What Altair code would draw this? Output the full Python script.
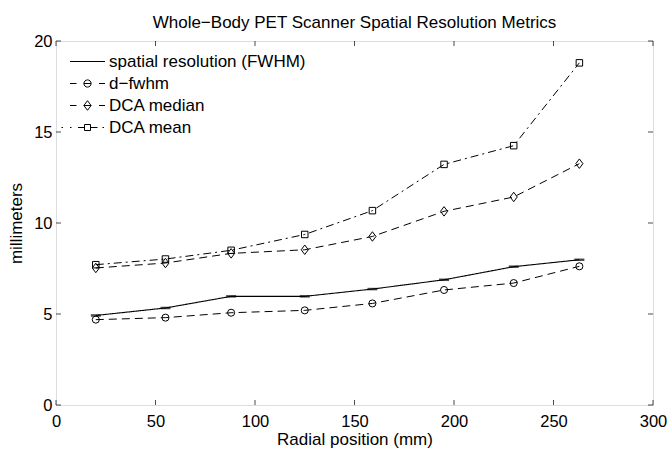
import altair as alt
import pandas as pd

radial = [20, 55, 88, 125, 159, 195, 230, 263]
fwhm = [4.92, 5.33, 5.97, 5.97, 6.37, 6.88, 7.60, 7.98]
d_fwhm = [4.69, 4.80, 5.07, 5.20, 5.58, 6.32, 6.70, 7.62]
dca_median = [7.53, 7.80, 8.33, 8.53, 9.26, 10.64, 11.43, 13.26]
dca_mean = [7.71, 8.02, 8.50, 9.37, 10.68, 13.22, 14.25, 18.80]

names = ["spatial resolution (FWHM)", "d\u2212fwhm", "DCA median", "DCA mean"]
x_ticks = [0, 50, 100, 150, 200, 250, 300]
y_ticks = [0, 5, 10, 15, 20]

FONT = "Liberation Sans"

rows = []
for name, vals in zip(names, [fwhm, d_fwhm, dca_median, dca_mean]):
    for xv, yv in zip(radial, vals):
        rows.append({"series": name, "x": xv, "y": yv})
df = pd.DataFrame(rows)

xs = alt.Scale(domain=[0, 300], nice=False, zero=False)
ys = alt.Scale(domain=[0, 20], nice=False, zero=False)

xaxis = alt.Axis(values=x_ticks, ticks=False, domain=False, grid=False,
                 labelFontSize=16.5, labelFont=FONT, labelColor="black", labelPadding=8,
                 titleFontSize=17, titleFont=FONT, titleFontWeight="normal", titleColor="black",
                 titleBaseline="alphabetic", titleY=39, titleX=298.5, labelFlush=False)
yaxis = alt.Axis(values=y_ticks, ticks=False, domain=False, grid=False,
                 labelFontSize=16.5, labelFont=FONT, labelColor="black", labelPadding=4,
                 titleFontSize=17, titleFont=FONT, titleFontWeight="normal", titleColor="black",
                 titleBaseline="alphabetic", titleAngle=270, titleX=-35, titleY=182,
                 titleAlign="center", labelFlush=False)

base = alt.Chart(df)


def xenc():
    return alt.X("x:Q", scale=xs)


def yenc():
    return alt.Y("y:Q", scale=ys)


layers = []

# lines
dashes = {names[0]: [1, 0], names[1]: [8, 5], names[2]: [8, 5], names[3]: [8, 4, 2, 4]}
for i, n in enumerate(names):
    if i == 0:
        xe = alt.X("x:Q", scale=xs, axis=xaxis, title="Radial position (mm)")
        ye = alt.Y("y:Q", scale=ys, axis=yaxis, title="millimeters")
    else:
        xe, ye = xenc(), yenc()
    lyr = base.transform_filter(alt.datum.series == n).mark_line(
        color="black", strokeWidth=1.1 if i == 0 else 1, strokeDash=dashes[n]
    ).encode(x=xe, y=ye)
    layers.append(lyr)

# error bar caps on FWHM
layers.append(base.transform_filter(alt.datum.series == names[0]).mark_tick(
    orient="horizontal", size=10, thickness=2.5, color="black").encode(x=xenc(), y=yenc()))

# markers
diamond = "M0,-1L0.75,0L0,1L-0.75,0Z"
layers.append(base.transform_filter(alt.datum.series == names[1]).mark_point(
    shape="circle", size=50, filled=False, color="black", strokeWidth=1, opacity=1).encode(x=xenc(), y=yenc()))
layers.append(base.transform_filter(alt.datum.series == names[2]).mark_point(
    shape=diamond, size=90, filled=False, color="black", strokeWidth=1, opacity=1).encode(x=xenc(), y=yenc()))
layers.append(base.transform_filter(alt.datum.series == names[3]).mark_point(
    shape="square", size=42, filled=False, color="black", strokeWidth=1, opacity=1).encode(x=xenc(), y=yenc()))

# inward ticks
xt = pd.DataFrame({"x": x_ticks})
yt = pd.DataFrame({"y": y_ticks})
layers.append(alt.Chart(xt).mark_tick(orient="vertical", size=5, thickness=1, yOffset=-2.5, color="black")
              .encode(x=xenc(), y=alt.Y(datum=0, scale=ys)))
layers.append(alt.Chart(xt).mark_tick(orient="vertical", size=5, thickness=1, yOffset=2.5, color="black")
              .encode(x=xenc(), y=alt.Y(datum=20, scale=ys)))
layers.append(alt.Chart(yt).mark_tick(orient="horizontal", size=5, thickness=1, xOffset=2.5, color="black")
              .encode(y=alt.Y("y:Q", scale=ys), x=alt.X(datum=0, scale=xs)))
layers.append(alt.Chart(yt).mark_tick(orient="horizontal", size=5, thickness=1, xOffset=-2.5, color="black")
              .encode(y=alt.Y("y:Q", scale=ys), x=alt.X(datum=300, scale=xs)))

# legend layer (no visible marks; legend from scale domain)
paths = [
    "M-1.75,0H1.75",
    "M-1.75,0H-1.1M0.36,0A0.36,0.36 0 1,1 -0.36,0A0.36,0.36 0 1,1 0.36,0M-0.36,0H0.36M1.15,0H1.75",
    "M-1.75,0H-1.1M0,-0.48L0.36,0L0,0.48L-0.36,0ZM-0.36,0H0.36M1.15,0H1.75",
    "M-2.6,0H-2.45M-1.75,0H-1.6M-0.95,0H-0.3M-0.3,-0.3H0.3V0.3H-0.3ZM0.3,0H1.0M1.5,0H1.65",
]
legend = alt.Legend(title=None, orient="none", legendX=21, legendY=10, padding=0,
                    symbolSize=400, symbolStrokeWidth=1, symbolStrokeColor="black",
                    symbolFillColor="transparent", symbolOffset=0, labelOffset=11,
                    labelFontSize=17, labelFont=FONT, labelColor="black", rowPadding=3,
                    symbolOpacity=1, labelLimit=400)
layers.append(base.transform_filter("false").mark_point(filled=False, color="black").encode(
    x=xenc(), y=yenc(),
    shape=alt.Shape("series:N", scale=alt.Scale(domain=names, range=paths), legend=legend),
))

chart = alt.layer(*layers).properties(
    width=597, height=364,
    title=alt.Title("Whole\u2212Body PET Scanner Spatial Resolution Metrics", fontSize=17, font=FONT,
                    fontWeight="normal", color="black", baseline="alphabetic", offset=14, dy=26,
                    anchor="middle"),
    autosize=alt.AutoSizeParams(type="none"),
    padding={"left": 56, "top": 41, "right": 18, "bottom": 44},
).configure_view(stroke="black", strokeWidth=1).configure(background="white")

chart.save("out.html", embed_options={"renderer": "svg", "actions": False})
